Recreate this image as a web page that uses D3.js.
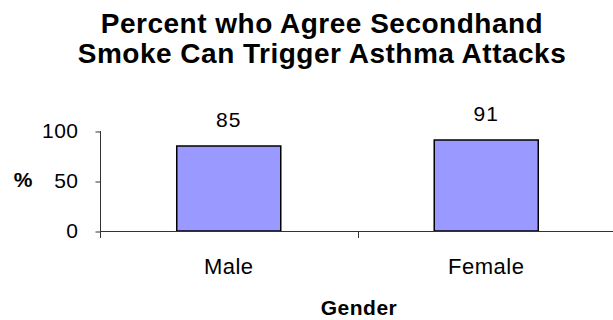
<!DOCTYPE html>
<html>
<head>
<meta charset="utf-8">
<script src="https://cdn.jsdelivr.net/npm/d3@7"></script>
<style>
  html, body { margin: 0; padding: 0; background: #fff; }
  svg { display: block; font-family: "Liberation Sans", Arial, sans-serif; }
</style>
</head>
<body>
<svg id="chart" width="613" height="320"></svg>
<script>
const titleLines = ["Percent who Agree Secondhand", "Smoke Can Trigger Asthma Attacks"];
const categories = ["Male", "Female"];
const values = [85, 91];
const yTicks = [0, 50, 100];
const xTitle = "Gender";
const yTitle = "%";

const svg = d3.select("#chart");

const x = d3.scaleBand()
  .domain(categories)
  .range([100, 615])
  .paddingInner(0.596)
  .paddingOuter(0.298);

const y = d3.scaleLinear().domain([0, 100]).range([231, 131]);

// Title
svg.append("text")
  .attr("x", 322)
  .attr("text-anchor", "middle")
  .attr("font-weight", "bold")
  .attr("font-size", 28)
  .attr("letter-spacing", 0.5)
  .attr("fill", "#000")
  .selectAll("tspan")
  .data(titleLines)
  .join("tspan")
  .attr("x", 322)
  .attr("y", (d, i) => 33 + i * 30)
  .text(d => d);

// Bars
svg.append("g")
  .selectAll("rect")
  .data(values)
  .join("rect")
  .attr("x", (d, i) => x(categories[i]))
  .attr("y", d => y(d))
  .attr("width", x.bandwidth())
  .attr("height", d => y(0) - y(d))
  .attr("fill", "#9999FF")
  .attr("stroke", "#000")
  .attr("stroke-width", 1.5);

// Value labels
svg.append("g")
  .selectAll("text")
  .data(values)
  .join("text")
  .attr("x", (d, i) => x(categories[i]) + x.bandwidth() / 2)
  .attr("y", d => y(d) - 19.5)
  .attr("text-anchor", "middle")
  .attr("font-size", 21)
  .attr("letter-spacing", 1)
  .attr("fill", "#000")
  .text(d => d);

// Y axis
const yAxis = d3.axisLeft(y).tickValues(yTicks).tickSize(5).tickPadding(17).tickFormat(d3.format("d"));
const gy = svg.append("g").attr("transform", "translate(100.5,0)").call(yAxis);
gy.select(".domain").remove();
gy.selectAll(".tick line").attr("stroke", "#333").attr("transform", "translate(0,0.5)");
gy.selectAll(".tick text")
  .attr("font-size", 21)
  .attr("letter-spacing", 0.5)
  .attr("font-family", "Liberation Sans, Arial, sans-serif")
  .attr("fill", "#000");
// vertical axis line (extends down as category boundary tick)
svg.append("line")
  .attr("x1", 100.5).attr("x2", 100.5)
  .attr("y1", y(100)).attr("y2", y(0) + 7)
  .attr("stroke", "#333");

// X axis line
svg.append("line")
  .attr("x1", 100).attr("x2", 613)
  .attr("y1", y(0) + 0.5).attr("y2", y(0) + 0.5)
  .attr("stroke", "#333");

// Category boundary ticks
const step = x.step();
const boundaries = categories.slice(1).map((c, i) => x.range()[0] + (i + 1) * step);
svg.append("g")
  .selectAll("line")
  .data(boundaries)
  .join("line")
  .attr("x1", d => Math.round(d) + 0.5)
  .attr("x2", d => Math.round(d) + 0.5)
  .attr("y1", y(0))
  .attr("y2", y(0) + 7)
  .attr("stroke", "#333");

// Category labels
svg.append("g")
  .selectAll("text")
  .data(categories)
  .join("text")
  .attr("x", d => x(d) + x.bandwidth() / 2)
  .attr("y", 274)
  .attr("text-anchor", "middle")
  .attr("font-size", 22)
  .attr("letter-spacing", 0.5)
  .attr("fill", "#000")
  .text(d => d);

// Axis titles
svg.append("text")
  .attr("x", 359)
  .attr("y", 315)
  .attr("text-anchor", "middle")
  .attr("font-weight", "bold")
  .attr("font-size", 21)
  .attr("letter-spacing", 0.5)
  .attr("fill", "#000")
  .text(xTitle);

svg.append("text")
  .attr("x", 23)
  .attr("y", 187)
  .attr("text-anchor", "middle")
  .attr("font-weight", "bold")
  .attr("font-size", 21)
  .attr("fill", "#000")
  .text(yTitle);
</script>
</body>
</html>
